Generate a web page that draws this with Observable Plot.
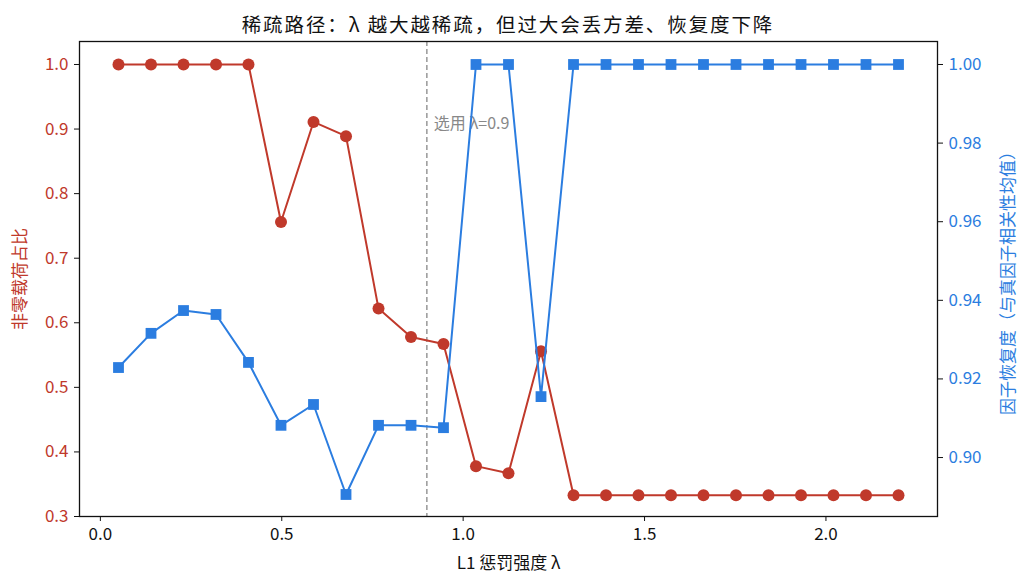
<!DOCTYPE html>
<html><head><meta charset="utf-8">
<script src="https://cdn.jsdelivr.net/npm/d3@7"></script>
<script src="https://cdn.jsdelivr.net/npm/@observablehq/plot@0.6"></script>
<style>
body{margin:0;background:#fff;font-family:'Noto Sans CJK SC',sans-serif;}
#title{width:1016px;text-align:center;font-size:19.5px;letter-spacing:1.9px;height:30px;line-height:30px;padding-top:9px;box-sizing:border-box;color:#111;}
</style></head><body>
<div id="title">稀疏路径：λ 越大越稀疏，但过大会丢方差、恢复度下降</div>
<div id="chart"></div>
<script>
const lambdas = [0.05, 0.1396, 0.2292, 0.3188, 0.4083, 0.4979, 0.5875, 0.6771, 0.7667, 0.8563, 0.9458, 1.0354, 1.125, 1.2146, 1.3042, 1.3938, 1.4833, 1.5729, 1.6625, 1.7521, 1.8417, 1.9313, 2.0208, 2.1104, 2.2];
const nonzeroRatio = [1.0, 1.0, 1.0, 1.0, 1.0, 0.756, 0.911, 0.889, 0.622, 0.578, 0.567, 0.378, 0.367, 0.556, 0.333, 0.333, 0.333, 0.333, 0.333, 0.333, 0.333, 0.333, 0.333, 0.333, 0.333];
const recovery = [0.9229, 0.9316, 0.9374, 0.9364, 0.9242, 0.9082, 0.9135, 0.8906, 0.9082, 0.9082, 0.9076, 1.0, 1.0, 0.9155, 1.0, 1.0, 1.0, 1.0, 1.0, 1.0, 1.0, 1.0, 1.0, 1.0, 1.0];
const leftTicks = [0.3, 0.4, 0.5, 0.6, 0.7, 0.8, 0.9, 1.0];
const rightTicks = [0.90, 0.92, 0.94, 0.96, 0.98, 1.00];
const xTicks = [0.0, 0.5, 1.0, 1.5, 2.0];
const selectedLambda = [0.9];
const xLabel = "L1 惩罚强度 λ";
const leftLabel = "非零载荷占比";
const rightLabel = "因子恢复度（与真因子相关性均值）";

const red = "#c0392b", blue = "#2b7de0";
const L = [0.3, 1.0356], R = [0.885, 1.00585];
const toLeft = v => L[0] + (v - R[0]) / (R[1] - R[0]) * (L[1] - L[0]);
const fromLeft = y => R[0] + (y - L[0]) / (L[1] - L[0]) * (R[1] - R[0]);

const redData = lambdas.map((x, i) => ({x, y: nonzeroRatio[i]}));
const blueData = lambdas.map((x, i) => ({x, y: toLeft(recovery[i])}));

const chart = Plot.plot({
  width: 1027, height: 555,
  marginLeft: 79, marginRight: 90, marginTop: 11, marginBottom: 69,
  style: {fontFamily: "'Noto Sans CJK SC', sans-serif", fontSize: "16px", color: "#111"},
  x: {domain: [-0.0575, 2.3075]},
  y: {domain: L},
  marks: [
    Plot.ruleX(selectedLambda, {stroke: "#888", strokeWidth: 1.3, strokeDasharray: "5,3"}),
    Plot.text(selectedLambda, {x: d => d, y: 0.9086, text: d => "选用 λ=" + d, textAnchor: "start", dx: 7, fill: "#888", fontSize: 16}),
    Plot.line(redData, {x: "x", y: "y", stroke: red, strokeWidth: 2}),
    Plot.dot(redData, {x: "x", y: "y", fill: red, r: 6, symbol: "circle"}),
    Plot.line(blueData, {x: "x", y: "y", stroke: blue, strokeWidth: 2}),
    Plot.dot(blueData, {x: "x", y: "y", fill: blue, r: 6.1, symbol: "square", strokeWidth: 0}),
    Plot.axisX({ticks: xTicks, tickFormat: d3.format(".1f"), tickSize: 5, tickPadding: 6, stroke: "#111", fill: "#111", fontSize: 17, label: null}),
    Plot.axisY({ticks: leftTicks, tickFormat: d3.format(".1f"), tickSize: 5, tickPadding: 6, stroke: "#111", fill: red, fontSize: 17, label: null}),
    Plot.axisY(rightTicks.map(toLeft), {anchor: "right", tickFormat: y => d3.format(".2f")(fromLeft(y)), tickSize: 5, tickPadding: 6, stroke: "#111", fill: blue, fontSize: 17, label: null}),
    Plot.text([xLabel], {frameAnchor: "bottom", dy: 47, lineAnchor: "middle", textAnchor: "middle", fill: "#111", fontSize: 17}),
    Plot.text([leftLabel], {frameAnchor: "left", dx: -59, rotate: -90, lineAnchor: "middle", textAnchor: "middle", fill: red, fontSize: 17}),
    Plot.text([rightLabel], {frameAnchor: "right", dx: 71, rotate: -90, lineAnchor: "middle", textAnchor: "middle", fill: blue, fontSize: 17}),
    Plot.frame({stroke: "#111", strokeWidth: 1.3})
  ]
});
document.getElementById("chart").appendChild(chart);
</script>
</body></html>
